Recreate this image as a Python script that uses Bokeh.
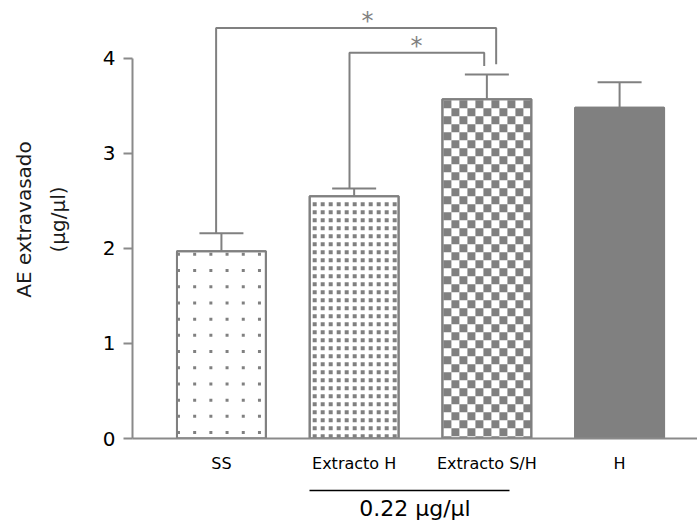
from bokeh.plotting import figure
from bokeh.models import (Range1d, LinearAxis, FixedTicker, ColumnDataSource,
                          Whisker, TeeHead, Label)
from bokeh.embed import file_html
from bokeh.resources import INLINE

# ---------------- data ----------------
categories = ["SS", "Extracto H", "Extracto S/H", "H"]
means = [1.97, 2.55, 3.57, 3.48]
errors = [0.19, 0.08, 0.26, 0.27]
y_ticks = [0, 1, 2, 3, 4]
patterns = ["sparse", "dense", "checker", "solid"]
bracket_pairs = [(0, 2), (1, 2)]
bracket_marks = ["*", "*"]
dose_label = "0.22 \u00b5g/\u00b5l"
dose_group = [1, 2]
y_label = "AE extravasado\n(\u00b5g/\u00b5l)"

# ---------------- style / layout ----------------
GRAY = "#808080"
AXIS = "#8a8a8a"
FONT = "DejaVu Sans"
BAR_W = 0.67
W, H = 697, 527
LEFT, TOP, BOTTOM = 132, 0, 89
X0, X1 = -0.67, 3.587
Y0, Y1 = 0, 4.61
PX_X = (W - LEFT) / (X1 - X0)       # pixels per x unit
PX_Y = (H - TOP - BOTTOM) / (Y1 - Y0)  # pixels per y unit

# pattern definitions (pixel step, square size, inset from bar edge)
pattern_style = {
    "sparse": dict(step=16.2, size=3, inset_x=1.5, inset_y=3, checker=False),
    "dense": dict(step=8, size=4, inset_x=5, inset_y=8, checker=False),
    "checker": dict(step=8, size=8, inset_x=5, inset_y=5, checker=True),
}

x = list(range(len(categories)))

p = figure(width=W, height=H, output_backend="svg", toolbar_location=None,
           x_range=Range1d(X0, X1), y_range=Range1d(Y0, Y1),
           min_border_left=LEFT, min_border_right=0, min_border_top=TOP,
           min_border_bottom=BOTTOM)
p.outline_line_color = None
p.xgrid.visible = False
p.ygrid.visible = False
p.background_fill_color = "white"

# bars
fills = [GRAY if pt == "solid" else "white" for pt in patterns]
bar_src = ColumnDataSource(dict(x=x, top=means, fill=fills))
p.vbar(x="x", top="top", bottom=0, width=BAR_W, source=bar_src,
       fill_color="fill", line_color=GRAY, line_width=2)

# fill patterns, laid out inside each bar from its value
px_, py_, ps_ = [], [], []
for i, pt in enumerate(patterns):
    if pt not in pattern_style:
        continue
    st = pattern_style[pt]
    w_px = BAR_W * PX_X
    h_px = means[i] * PX_Y
    left = x[i] - BAR_W / 2
    half = st["size"] / 2
    col = 0
    cx = st["inset_x"]
    while cx - half < w_px - 1:
        row = 0
        cy = st["inset_y"]
        while cy - half < h_px - 1:
            if not st["checker"] or (row + col) % 2 == 0:
                px_.append(left + cx / PX_X)
                py_.append(means[i] - cy / PX_Y)
                ps_.append(st["size"])
            row += 1
            cy += st["step"]
        col += 1
        cx += st["step"]
p.scatter(x=px_, y=py_, size=ps_, marker="square", fill_color=GRAY,
          line_color=None)
# redraw outlines above the pattern
p.vbar(x="x", top="top", bottom=0, width=BAR_W, source=bar_src,
       fill_color=None, line_color=GRAY, line_width=2)

# error bars
err_src = ColumnDataSource(dict(x=x, lower=means,
                                upper=[m + e for m, e in zip(means, errors)]))
p.add_layout(Whisker(source=err_src, base="x", lower="lower", upper="upper",
                     line_color=GRAY, line_width=2, lower_head=None,
                     upper_head=TeeHead(size=44, line_color=GRAY, line_width=2)))

# significance brackets
tops = [m + e for m, e in zip(means, errors)]
levels = [4.32, 4.06]
right_ends = [3.94, 3.92]
left_off = [-0.04, -0.035]
right_off = [0.07, -0.02]
star_x = [1.1, 1.47]
xs, ys = [], []
for k, (a, b) in enumerate(bracket_pairs):
    xl, xr = x[a] + left_off[k], x[b] + right_off[k]
    xs.append([xl, xl, xr, xr])
    ys.append([tops[a], levels[k], levels[k], right_ends[k]])
    p.add_layout(Label(x=star_x[k], y=levels[k], text=bracket_marks[k],
                       text_align="center", text_baseline="bottom",
                       text_font=FONT, text_font_size="24px", text_color=GRAY,
                       y_offset=-7))
p.multi_line(xs=xs, ys=ys, line_color=GRAY, line_width=2)

# axes
xa = p.xaxis[0]
xa.ticker = FixedTicker(ticks=x)
xa.major_label_overrides = {i: c for i, c in enumerate(categories)}
xa.major_tick_line_color = None
xa.minor_tick_line_color = None
xa.axis_line_color = AXIS
xa.axis_line_width = 2
xa.major_label_standoff = 9
xa.major_label_text_font = FONT
xa.major_label_text_font_size = "16px"
xa.major_label_text_color = "black"
xa.axis_label = " "
xa.axis_label_standoff = 0
xa.axis_label_text_font_size = "11px"

ya = p.yaxis[0]
ya.ticker = FixedTicker(ticks=y_ticks)
ya.bounds = (y_ticks[0], y_ticks[-1])
ya.axis_line_color = AXIS
ya.axis_line_width = 2
ya.major_tick_line_color = AXIS
ya.major_tick_line_width = 2
ya.major_tick_out = 9
ya.major_tick_in = 0
ya.minor_tick_line_color = None
ya.major_label_text_font = FONT
ya.major_label_text_font_size = "20px"
ya.major_label_text_color = "black"
ya.major_label_standoff = 8
ya.axis_label = y_label
ya.axis_label_text_font = FONT
ya.axis_label_text_font_size = "20px"
ya.axis_label_text_font_style = "normal"
ya.axis_label_text_color = "#1a1a1a"
ya.axis_label_text_line_height = 1.4
ya.axis_label_standoff = 30

dose_axis = LinearAxis(bounds=(dose_group[0] - 0.34, dose_group[1] + 0.17),
                       ticker=FixedTicker(ticks=[]), axis_label=dose_label,
                       axis_line_color="black", axis_line_width=1.5,
                       major_tick_line_color=None, minor_tick_line_color=None,
                       major_label_text_font_size="0px", major_label_standoff=0,
                       axis_label_standoff=5, axis_label_text_font=FONT,
                       axis_label_text_font_size="22px",
                       axis_label_text_color="black",
                       axis_label_text_font_style="normal")
p.add_layout(dose_axis, "below")

open("out.html", "w").write(file_html(p, INLINE))
